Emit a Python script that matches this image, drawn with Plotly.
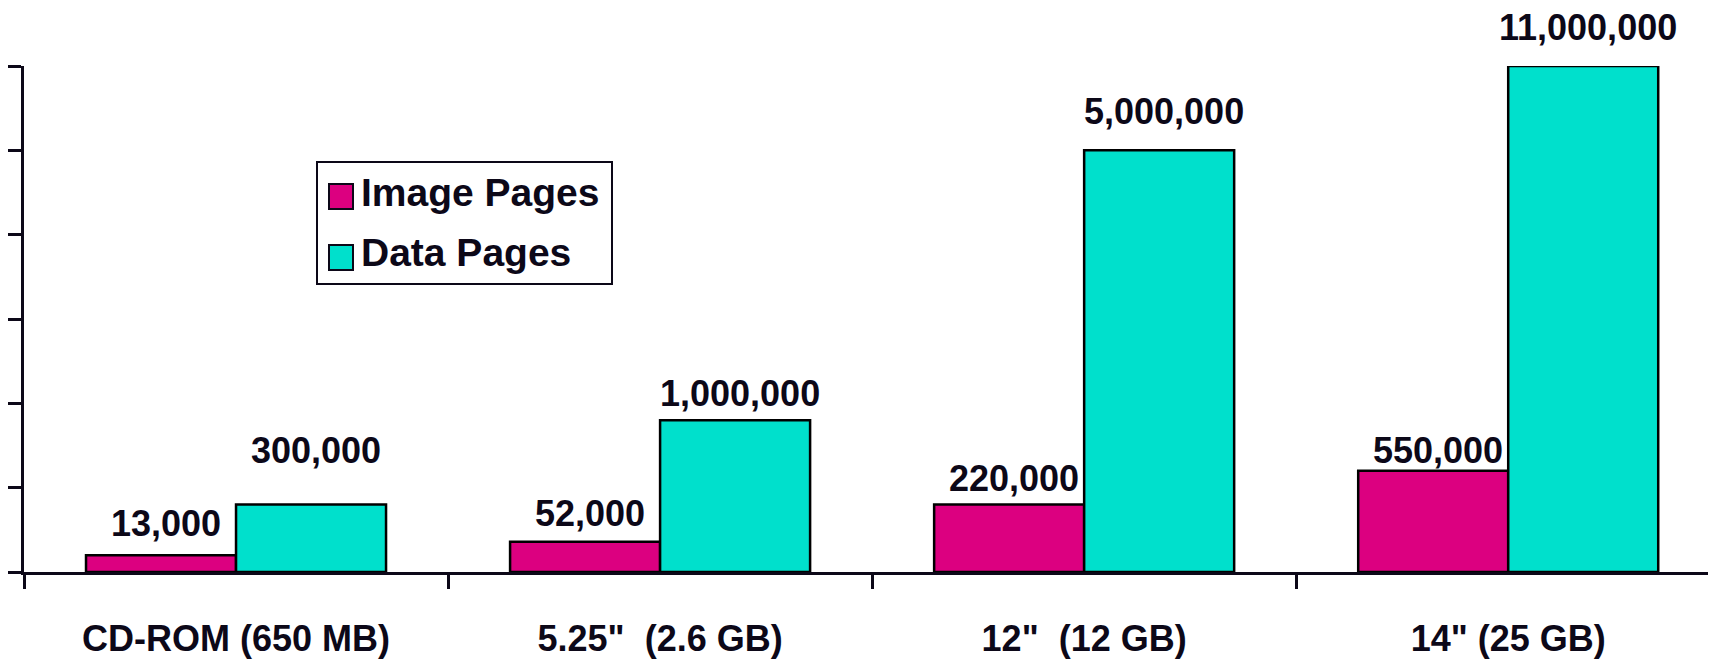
import plotly.graph_objects as go

# ---------------- data ----------------
categories = ["CD-ROM (650 MB)", "5.25\"\u00a0 (2.6 GB)", "12\"\u00a0 (12 GB)", "14\" (25 GB)"]
series_names = ["Image Pages", "Data Pages"]
image_heights = [0.2, 0.36, 0.8, 1.2]      # bar heights as drawn (axis units)
data_heights = [0.8, 1.8, 5.0, 6.0]
image_labels = ["13,000", "52,000", "220,000", "550,000"]
data_labels = ["300,000", "1,000,000", "5,000,000", "11,000,000"]

# ---------------- style / layout ----------------
BODY = 8                      # default page body margin in the saved html
W, H = 1716 - BODY, 659 - BODY
ML, MR, MT, MB = 24 - BODY, 0, 66 - BODY, 87
MAGENTA = "#DC0080"
CYAN = "#00E0CC"
INK = "#0c0818"
SANS = "Liberation Sans"
image_gap_px = [17, 14, 12, 6]
data_gap_px = [40, 12, 24, 24]
BAR_HALF = 75

fig = go.Figure()
fig.add_trace(go.Bar(x=categories, y=image_heights, name=series_names[0],
                     marker=dict(color=MAGENTA, line=dict(color="#000000", width=2.5)),
                     showlegend=False))
fig.add_trace(go.Bar(x=categories, y=data_heights, name=series_names[1],
                     marker=dict(color=CYAN, line=dict(color="#000000", width=2.5)),
                     showlegend=False))

label_font = dict(family=SANS, size=36, color=INK, weight=700)
annotations = []
for cat, h, lab, gap in zip(categories, image_heights, image_labels, image_gap_px):
    annotations.append(dict(x=cat, y=h, xref="x", yref="y", text=lab, showarrow=False,
                            xanchor="center", yanchor="bottom", xshift=-BAR_HALF + 5,
                            yshift=gap - 8, font=label_font))
for cat, h, lab, gap in zip(categories, data_heights, data_labels, data_gap_px):
    annotations.append(dict(x=cat, y=h, xref="x", yref="y", text=lab, showarrow=False,
                            xanchor="center", yanchor="bottom", xshift=BAR_HALF + 5,
                            yshift=gap - 8, font=label_font))

# manual legend (window pixel -> paper conversion)
PW, PH = W - ML - MR, H - MT - MB
def px(xp):
    return (xp - BODY - ML) / PW
def py(yp):
    return (H - MB - (yp - BODY)) / PH

shapes = [
    dict(type="rect", xref="paper", yref="paper", x0=px(317), x1=px(612), y0=py(284), y1=py(162),
         line=dict(color=INK, width=2), fillcolor="white", layer="above"),
    dict(type="rect", xref="paper", yref="paper", x0=px(329), x1=px(353), y0=py(209), y1=py(184),
         line=dict(color=INK, width=2), fillcolor=MAGENTA, layer="above"),
    dict(type="rect", xref="paper", yref="paper", x0=px(329), x1=px(353), y0=py(270), y1=py(245),
         line=dict(color=INK, width=2), fillcolor=CYAN, layer="above"),
]
for name, yc in zip(series_names, [192, 252]):
    annotations.append(dict(x=px(359), y=py(yc), xref="paper", yref="paper", text=name,
                            showarrow=False, xanchor="left", yanchor="middle",
                            font=dict(family=SANS, size=39, color=INK, weight=700)))

fig.update_layout(
    width=W, height=H,
    margin=dict(l=ML, r=MR, t=MT, b=MB, pad=0),
    paper_bgcolor="white", plot_bgcolor="white",
    barmode="group", bargap=0.2925, bargroupgap=0,
    annotations=annotations, shapes=shapes,
    xaxis=dict(type="category", range=[-0.5, 3.49], showgrid=False, zeroline=False,
               showline=True, linecolor=INK, linewidth=2.5,
               ticks="outside", tickson="boundaries", ticklen=14, tickwidth=2.5, tickcolor=INK,
               ticklabelstandoff=33,
               tickfont=dict(family=SANS, size=36, color=INK, weight=700)),
    yaxis=dict(range=[0, 6], dtick=1, tick0=0, showgrid=False, zeroline=False,
               showline=True, linecolor=INK, linewidth=2.5,
               ticks="outside", ticklen=14, tickwidth=2.5, tickcolor=INK,
               showticklabels=False),
)

fig.write_html("out.html")
